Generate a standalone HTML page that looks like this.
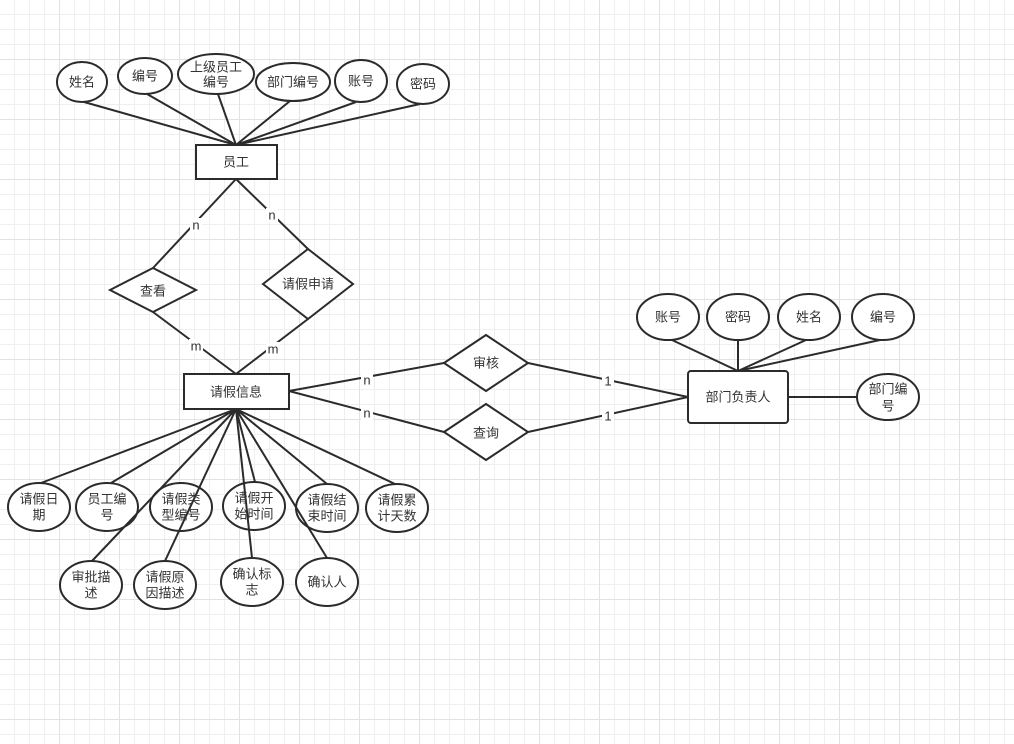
<!DOCTYPE html>
<html><head><meta charset="utf-8"><style>
html,body{margin:0;padding:0;background:#fff}
svg{display:block}
text{font-family:"Liberation Sans","Noto Sans CJK SC",sans-serif;font-size:13px;fill:#333;text-anchor:middle;dominant-baseline:central}
</style></head><body>
<svg width="1014" height="744" xmlns="http://www.w3.org/2000/svg">
<defs>
<pattern id="g" width="60" height="60" patternUnits="userSpaceOnUse">
<path d="M14.5 0V60M29.5 0V60M44.5 0V60M0 14.5H60M0 29.5H60M0 44.5H60" stroke="#efefef" stroke-width="1" fill="none"/>
<path d="M59.5 0V60M0 59.5H60" stroke="#e2e2e2" stroke-width="1" fill="none"/>
</pattern>
</defs>
<rect width="1014" height="744" fill="url(#g)"/>
<g stroke="#2b2b2b" stroke-width="2" fill="#fff">
<ellipse cx="82" cy="82" rx="25" ry="20"/>
<ellipse cx="145" cy="76" rx="27" ry="18"/>
<ellipse cx="216" cy="74" rx="38" ry="20"/>
<ellipse cx="293" cy="82" rx="37" ry="19"/>
<ellipse cx="361" cy="81" rx="26" ry="21"/>
<ellipse cx="423" cy="84" rx="26" ry="20"/>
<rect x="196" y="145" width="81" height="34"/>
<polygon points="110,290 153,268 196,290 153,312"/>
<polygon points="263,284 308,249 353,284 308,319"/>
<rect x="184" y="374" width="105" height="35"/>
<polygon points="444,363 486,335 528,363 486,391"/>
<polygon points="444,432 486,404 528,432 486,460"/>
<rect x="688" y="371" width="100" height="52" rx="3"/>
<ellipse cx="668" cy="317" rx="31" ry="23"/>
<ellipse cx="738" cy="317" rx="31" ry="23"/>
<ellipse cx="809" cy="317" rx="31" ry="23"/>
<ellipse cx="883" cy="317" rx="31" ry="23"/>
<ellipse cx="888" cy="397" rx="31" ry="23"/>
<ellipse cx="39" cy="507" rx="31" ry="24"/>
<ellipse cx="107" cy="507" rx="31" ry="24"/>
<ellipse cx="181" cy="507" rx="31" ry="24"/>
<ellipse cx="254" cy="506" rx="31" ry="24"/>
<ellipse cx="327" cy="508" rx="31" ry="24"/>
<ellipse cx="397" cy="508" rx="31" ry="24"/>
<ellipse cx="91" cy="585" rx="31" ry="24"/>
<ellipse cx="165" cy="585" rx="31" ry="24"/>
<ellipse cx="252" cy="582" rx="31" ry="24"/>
<ellipse cx="327" cy="582" rx="31" ry="24"/>
</g>
<g stroke="#2b2b2b" stroke-width="2" fill="none">
<path d="M84 102L236 145M147 94L236 145M218 94L236 145M290 101L236 145M356 102L236 145M420 104L236 145"/>
<path d="M236 179L153 268M236 179L308 249M153 312L236 374M308 319L236 374"/>
<path d="M289 391L444 363M289 391L444 432M528 363L688 397M528 432L688 397"/>
<path d="M672 340L738 371M738 340L738 371M806 340L738 371M880 340L738 371M788 397L857 397"/>
<path d="M236 409L41 483M236 409L111 483M236 409L92 561M236 409L165 561M236 409L252 558M236 409L255 482M236 409L327 484M236 409L395 484M236 409L327 558"/>
</g>
<g>
<rect x="190" y="218" width="12" height="14" fill="#fff"/><text x="196" y="225">n</text>
<rect x="266" y="208" width="12" height="14" fill="#fff"/><text x="272" y="215">n</text>
<rect x="189" y="339" width="14" height="14" fill="#fff"/><text x="196" y="346">m</text>
<rect x="266" y="342" width="14" height="14" fill="#fff"/><text x="273" y="349">m</text>
<rect x="361" y="373" width="12" height="14" fill="#fff"/><text x="367" y="380">n</text>
<rect x="361" y="406" width="12" height="14" fill="#fff"/><text x="367" y="413">n</text>
<rect x="602" y="374" width="12" height="14" fill="#fff"/><text x="608" y="381">1</text>
<rect x="602" y="409" width="12" height="14" fill="#fff"/><text x="608" y="416">1</text>
</g>
<text x="82" y="82">姓名</text>
<text x="145" y="76">编号</text>
<text x="216" y="67">上级员工</text><text x="216" y="82">编号</text>
<text x="293" y="82">部门编号</text>
<text x="361" y="81">账号</text>
<text x="423" y="84">密码</text>
<text x="236" y="162">员工</text>
<text x="153" y="291">查看</text>
<text x="308" y="284">请假申请</text>
<text x="236" y="392">请假信息</text>
<text x="486" y="363">审核</text>
<text x="486" y="433">查询</text>
<text x="738" y="397">部门负责人</text>
<text x="668" y="317">账号</text>
<text x="738" y="317">密码</text>
<text x="809" y="317">姓名</text>
<text x="883" y="317">编号</text>
<text x="888" y="389">部门编</text><text x="888" y="406">号</text>
<text x="39" y="499">请假日</text><text x="39" y="515">期</text>
<text x="107" y="499">员工编</text><text x="107" y="515">号</text>
<text x="181" y="499">请假类</text><text x="181" y="515">型编号</text>
<text x="254" y="498">请假开</text><text x="254" y="514">始时间</text>
<text x="327" y="500">请假结</text><text x="327" y="516">束时间</text>
<text x="397" y="500">请假累</text><text x="397" y="516">计天数</text>
<text x="91" y="577">审批描</text><text x="91" y="593">述</text>
<text x="165" y="577">请假原</text><text x="165" y="593">因描述</text>
<text x="252" y="574">确认标</text><text x="252" y="590">志</text>
<text x="327" y="582">确认人</text>
</svg>
</body></html>
